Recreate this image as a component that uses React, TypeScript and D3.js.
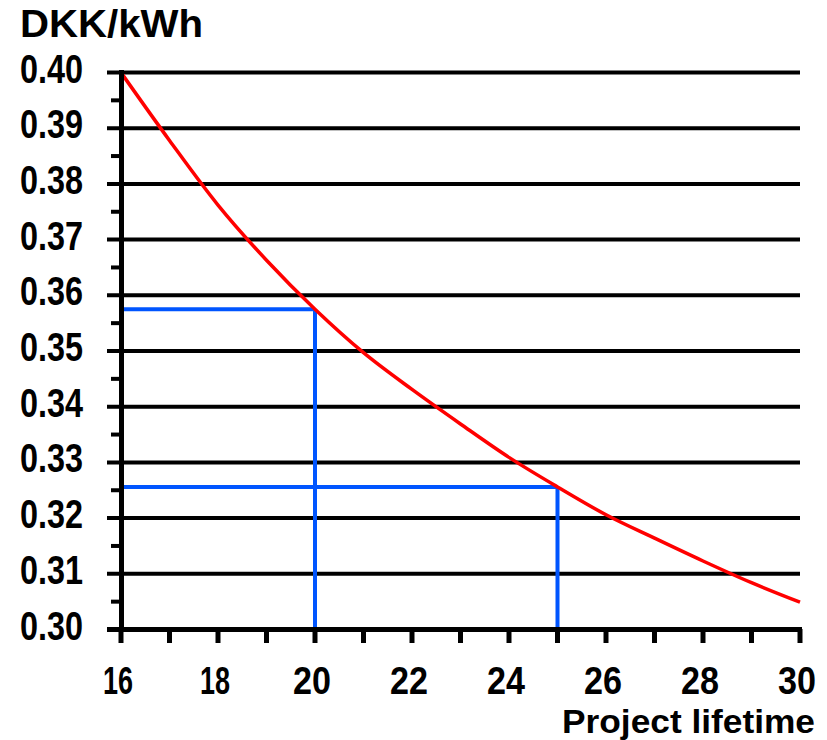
import * as d3 from 'd3'
import React from 'react'

const years = [16, 17, 18, 19, 20, 21, 22, 23, 24, 25, 26, 27, 28, 29, 30]
const costs = [0.400, 0.3878, 0.3762, 0.3663, 0.3575, 0.3497, 0.3431, 0.3369, 0.3309, 0.3256, 0.3206, 0.3164, 0.3123, 0.3084, 0.3049]
const yTicks = [0.30, 0.31, 0.32, 0.33, 0.34, 0.35, 0.36, 0.37, 0.38, 0.39, 0.40]
const yMinor = [0.305, 0.315, 0.325, 0.335, 0.345, 0.355, 0.365, 0.375, 0.385, 0.395]
const xLabels = [16, 18, 20, 22, 24, 26, 28, 30]
const markers = [20, 25]

const W = 827, H = 740
const font = "'Liberation Sans', Arial, sans-serif"

export default function App() {
  const
    x = d3.scaleLinear().domain([16, 30]).range([121, 800]),
    y = d3.scaleLinear().domain([0.30, 0.40]).range([629.5, 72.5]),
    line = d3.line<number>().x((_, i) => x(years[i])).y(d => y(d)).curve(d3.curveMonotoneX),
    valueAt = (yr: number) => costs[years.indexOf(yr)]

  return (
    <svg width={W} height={H} style={{ position: 'absolute', left: 0, top: 0, background: '#fff' }}>
      <text x={20} y={37} fontFamily={font} fontWeight='bold' fontSize={38} textLength={183} lengthAdjust='spacingAndGlyphs'>DKK/kWh</text>
      {yTicks.map(t => (
        <g key={t}>
          <line x1={107} x2={800} y1={y(t)} y2={y(t)} stroke='#000' strokeWidth={4} />
          <text x={20} y={y(t) + 10} fontFamily={font} fontWeight='bold' fontSize={40} textLength={63} lengthAdjust='spacingAndGlyphs'>{t.toFixed(2)}</text>
        </g>
      ))}
      {yMinor.map(t => <line key={t} x1={111} x2={121} y1={y(t)} y2={y(t)} stroke='#000' strokeWidth={4} />)}
      {markers.map(m => (
        <g key={m}>
          <line x1={121} x2={x(m)} y1={y(valueAt(m))} y2={y(valueAt(m))} stroke='#0055ff' strokeWidth={4} />
          <line x1={x(m)} x2={x(m)} y1={y(valueAt(m))} y2={629} stroke='#0055ff' strokeWidth={4} />
        </g>
      ))}
      <path d={line(costs) as string} fill='none' stroke='#ff0000' strokeWidth={3.5} />
      <line x1={121.5} x2={121.5} y1={70} y2={632} stroke='#000' strokeWidth={5} />
      <line x1={107} x2={802} y1={629.5} y2={629.5} stroke='#000' strokeWidth={5} />
      {years.map(yr => <line key={yr} x1={x(yr)} x2={x(yr)} y1={629} y2={643} stroke='#000' strokeWidth={5} />)}
      {xLabels.map(l => (
        <text key={l} x={x(l) - 3} y={694} textAnchor='middle' fontFamily={font} fontWeight='bold' fontSize={38}
          textLength={String(l).startsWith('1') ? 30 : 38} lengthAdjust='spacingAndGlyphs'>{l}</text>
      ))}
      <text x={815} y={733} textAnchor='end' fontFamily={font} fontWeight='bold' fontSize={33} textLength={253} lengthAdjust='spacingAndGlyphs'>Project lifetime</text>
    </svg>
  )
}
